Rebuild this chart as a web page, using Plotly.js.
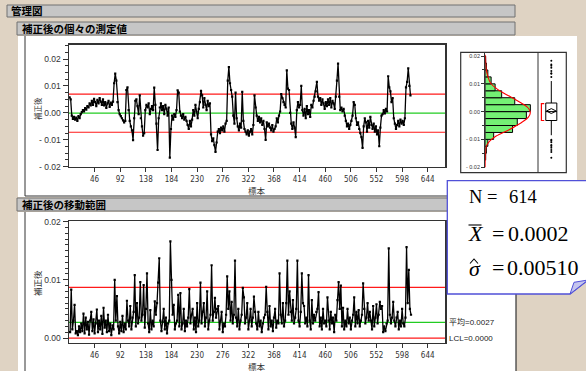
<!DOCTYPE html>
<html><head><meta charset="utf-8">
<script src="https://cdn.plot.ly/plotly-3.0.1.min.js"></script>
<style>html,body{margin:0;padding:0;background:#dfd3c3;}#chart{width:586px;height:371px;}</style>
</head><body><div id="chart"></div>
<script>
// ---------------- data ----------------
const sampleTicks = [46, 92, 138, 184, 230, 276, 322, 368, 414, 460, 506, 552, 598, 644];
const indivTickVals = [-0.02, -0.01, 0, 0.01, 0.02];
const indivTickText = ['- 0.02', '- 0.01', '0.00', '0.01', '0.02'];
const mrTickVals = [0, 0.01, 0.02];
const mrTickText = ['0.00', '0.01', '0.02'];

// individual measurements (read every 2nd sample: 1,3,5,...,613)
const indivValues = [
 0.0058, 0.0050, -0.0010, -0.0022, -0.0015, -0.0025, -0.0018, -0.0030, -0.0012, -0.0020,
 -0.0005, 0.0003, 0.0010, 0.0005, 0.0018, 0.0012, 0.0025, 0.0020, 0.0035, 0.0028,
 0.0045, 0.0030, 0.0052, 0.0040, 0.0025, 0.0048, 0.0035, 0.0055, 0.0042, 0.0030,
 0.0050, 0.0028, 0.0040, 0.0018, 0.0035, 0.0045, 0.0022, 0.0038, 0.0030, 0.0042,
 0.0110, 0.0146, 0.0120, 0.0040, 0.0010, -0.0005, -0.0012, -0.0020, -0.0028, -0.0035,
 -0.0030, 0.0085, 0.0095, 0.0010, -0.0030, -0.0050, -0.0065, -0.0101, -0.0020, 0.0045,
 0.0050, 0.0025, -0.0005, 0.0065, -0.0020, -0.0050, -0.0085, -0.0075, 0.0010, 0.0030,
 0.0020, 0.0035, -0.0005, 0.0015, 0.0025, 0.0010, 0.0094, 0.0030, -0.0040, -0.0138,
 -0.0020, 0.0020, 0.0035, 0.0010, 0.0025, -0.0005, 0.0030, 0.0015, -0.0010, 0.0020,
 -0.0166, -0.0060, -0.0010, -0.0025, -0.0005, -0.0015, 0.0010, 0.0084, 0.0075, 0.0005,
 -0.0010, -0.0020, -0.0005, -0.0025, -0.0015, -0.0030, -0.0045, -0.0060, -0.0030, -0.0050,
 -0.0025, 0.0010, -0.0010, 0.0030, 0.0005, -0.0020, 0.0015, 0.0040, 0.0082, 0.0065,
 0.0020, 0.0055, 0.0030, 0.0010, 0.0045, 0.0025, 0.0035, -0.0080, -0.0105, -0.0095,
 -0.0120, -0.0145, -0.0110, -0.0070, -0.0060, -0.0075, -0.0055, -0.0065, -0.0050, -0.0070,
 -0.0040, -0.0030, 0.0120, 0.0170, 0.0110, 0.0085, 0.0060, -0.0010, -0.0040, 0.0075,
 -0.0020, -0.0050, -0.0065, -0.0040, -0.0055, 0.0078, -0.0030, -0.0060, -0.0070, -0.0080,
 -0.0065, -0.0085, -0.0070, -0.0060, -0.0080, -0.0045, 0.0065, 0.0020, -0.0010, -0.0030,
 -0.0015, -0.0035, -0.0020, -0.0045, -0.0030, -0.0060, -0.0100, -0.0035, -0.0050, -0.0040,
 -0.0055, -0.0065, -0.0045, -0.0070, -0.0060, -0.0050, -0.0020, -0.0035, -0.0010, 0.0005,
 0.0070, 0.0055, 0.0040, 0.0030, 0.0020, 0.0158, 0.0090, 0.0085, 0.0000, -0.0040,
 -0.0060, -0.0035, -0.0055, -0.0090, 0.0010, 0.0040, 0.0020, 0.0030, 0.0100, 0.0010,
 -0.0010, 0.0015, -0.0020, 0.0025, -0.0005, 0.0010, -0.0015, 0.0030, 0.0020, 0.0045,
 0.0060, 0.0080, 0.0115, 0.0060, 0.0045, 0.0055, 0.0030, 0.0050, 0.0035, 0.0015,
 0.0040, 0.0025, 0.0050, 0.0030, 0.0055, 0.0020, 0.0045, 0.0035, 0.0015, 0.0060,
 0.0120, 0.0183, 0.0060, 0.0010, 0.0020, 0.0005, 0.0015, -0.0010, -0.0030, -0.0050,
 -0.0040, -0.0060, -0.0045, -0.0030, -0.0010, 0.0040, 0.0030, -0.0020, -0.0045, -0.0035,
 -0.0060, -0.0075, -0.0090, -0.0130, -0.0050, -0.0020, -0.0035, -0.0070, -0.0030, -0.0055,
 -0.0015, -0.0045, -0.0060, -0.0040, -0.0070, -0.0050, -0.0080, -0.0065, -0.0124, -0.0055,
 -0.0010, -0.0005, 0.0010, -0.0002, 0.0015, 0.0005, 0.0136, 0.0095, 0.0080, 0.0040,
 0.0055, -0.0020, -0.0040, -0.0060, -0.0045, -0.0030, -0.0050, -0.0025, -0.0040, -0.0030,
 -0.0045, -0.0020, 0.0095, 0.0115, 0.0165, 0.0100, 0.0065
];
// moving ranges (read every 2nd sample: 2,4,...,614)
const mrValues = [
 0.0010, 0.0083, 0.0015, 0.0030, 0.0057, 0.0008, 0.0012, 0.0005, 0.0020, 0.0010,
 0.0025, 0.0012, 0.0042, 0.0008, 0.0035, 0.0015, 0.0028, 0.0006, 0.0030, 0.0045,
 0.0012, 0.0032, 0.0008, 0.0025, 0.0049, 0.0010, 0.0030, 0.0015, 0.0038, 0.0007,
 0.0052, 0.0018, 0.0030, 0.0010, 0.0040, 0.0012, 0.0025, 0.0005, 0.0022, 0.0015,
 0.0100, 0.0030, 0.0072, 0.0020, 0.0008, 0.0028, 0.0012, 0.0038, 0.0010, 0.0025,
 0.0015, 0.0064, 0.0030, 0.0020, 0.0055, 0.0015, 0.0035, 0.0045, 0.0108, 0.0020,
 0.0060, 0.0025, 0.0035, 0.0096, 0.0030, 0.0040, 0.0091, 0.0018, 0.0050, 0.0111,
 0.0025, 0.0010, 0.0048, 0.0015, 0.0030, 0.0020, 0.0063, 0.0040, 0.0060, 0.0095,
 0.0137, 0.0030, 0.0012, 0.0028, 0.0050, 0.0015, 0.0035, 0.0008, 0.0025, 0.0030,
 0.0166, 0.0100, 0.0040, 0.0057, 0.0015, 0.0025, 0.0030, 0.0074, 0.0020, 0.0077,
 0.0015, 0.0025, 0.0050, 0.0012, 0.0030, 0.0020, 0.0035, 0.0084, 0.0025, 0.0040,
 0.0050, 0.0015, 0.0035, 0.0010, 0.0060, 0.0020, 0.0030, 0.0095, 0.0025, 0.0045,
 0.0060, 0.0020, 0.0035, 0.0080, 0.0015, 0.0030, 0.0040, 0.0125, 0.0030, 0.0045,
 0.0069, 0.0035, 0.0050, 0.0055, 0.0015, 0.0030, 0.0045, 0.0010, 0.0025, 0.0020,
 0.0040, 0.0106, 0.0050, 0.0080, 0.0030, 0.0062, 0.0025, 0.0040, 0.0133, 0.0035,
 0.0020, 0.0050, 0.0015, 0.0030, 0.0040, 0.0086, 0.0070, 0.0025, 0.0035, 0.0060,
 0.0015, 0.0030, 0.0050, 0.0020, 0.0035, 0.0071, 0.0045, 0.0025, 0.0015, 0.0045,
 0.0020, 0.0030, 0.0010, 0.0025, 0.0035, 0.0040, 0.0088, 0.0045, 0.0015, 0.0055,
 0.0020, 0.0030, 0.0012, 0.0035, 0.0050, 0.0018, 0.0030, 0.0025, 0.0111, 0.0040,
 0.0025, 0.0060, 0.0020, 0.0030, 0.0060, 0.0133, 0.0040, 0.0080, 0.0045, 0.0030,
 0.0065, 0.0025, 0.0035, 0.0050, 0.0133, 0.0030, 0.0020, 0.0045, 0.0111, 0.0060,
 0.0055, 0.0025, 0.0035, 0.0020, 0.0108, 0.0030, 0.0015, 0.0065, 0.0025, 0.0040,
 0.0030, 0.0045, 0.0050, 0.0079, 0.0020, 0.0035, 0.0015, 0.0050, 0.0025, 0.0030,
 0.0020, 0.0070, 0.0030, 0.0015, 0.0045, 0.0025, 0.0035, 0.0010, 0.0040, 0.0030,
 0.0065, 0.0096, 0.0050, 0.0090, 0.0020, 0.0052, 0.0015, 0.0030, 0.0020, 0.0050,
 0.0025, 0.0035, 0.0015, 0.0030, 0.0040, 0.0070, 0.0020, 0.0045, 0.0025, 0.0048,
 0.0020, 0.0030, 0.0040, 0.0094, 0.0050, 0.0025, 0.0035, 0.0060, 0.0030, 0.0045,
 0.0030, 0.0015, 0.0055, 0.0020, 0.0035, 0.0058, 0.0025, 0.0040, 0.0062, 0.0050,
 0.0055, 0.0010, 0.0020, 0.0012, 0.0025, 0.0030, 0.0154, 0.0040, 0.0025, 0.0035,
 0.0062, 0.0030, 0.0020, 0.0035, 0.0045, 0.0015, 0.0030, 0.0020, 0.0050, 0.0025,
 0.0020, 0.0035, 0.0156, 0.0060, 0.0117, 0.0050, 0.0040
];
const indivCL = -0.0001, indivUCL = 0.0070, indivLCL = -0.0072;
const mrCL = 0.0027, mrUCL = 0.0087, mrLCL = 0.0000;

const histBinCenters = [-0.01625, -0.01375, -0.01125, -0.00875, -0.00625, -0.00375, -0.00125, 0.00125, 0.00375, 0.00625, 0.00875, 0.01125, 0.01375, 0.01625, 0.01875];
const histCounts = [1, 3, 7, 23, 75, 88, 113, 124, 81, 45, 27, 16, 7, 3, 1];
const histBinWidth = 0.0025;
const normalCurveY = [0.0205, 0.0198, 0.0150, 0.0126, 0.0102, 0.0079, 0.0055, 0.0031, 0.0013, -0.0003, -0.0021, -0.0040, -0.0064, -0.0088, -0.0106, -0.0124, -0.0171, -0.0200];
const normalCurveCount = [0.3, 0.5, 2.8, 7.3, 14.7, 34.9, 67, 99, 118, 124, 118, 99, 67, 30, 12, 2.8, 0.5, 0.3];
const boxQ1 = [-0.0032], boxMedian = [0.0000], boxQ3 = [0.0031], boxLowFence = [-0.0085], boxHighFence = [0.0110], boxMean = [0.0002];
const boxOutliers = [0.0183, 0.0170, 0.0165, 0.0158, 0.0146, 0.0138, 0.0136, 0.0125, -0.0101, -0.0105, -0.0110, -0.0120, -0.0124, -0.0130, -0.0138, -0.0145, -0.0166];
const shortestHalf = [-0.0032, 0.0029];
const statN = '614', statMean = '0.0002', statSigma = '0.00510';

// ---------------- helpers (layout positions) ----------------
const W = 586, H = 371;
const PX = x => x / W;
const PY = y => 1 - y / H;
const indivX = indivValues.map((v, i) => 2 * i + 1);
const mrX = mrValues.map((v, i) => 2 * i + 2);
const boxPos = 0.47;

const tickFont = {family: 'Liberation Sans, Arial, sans-serif', size: 8.5, color: '#333'};
const xTickFont = {family: 'Liberation Sans Narrow, DejaVu Sans Condensed, Liberation Sans, Arial', size: 8, color: '#333'};

function xAxisCfg(anchor, dom) {
  return {domain: dom, anchor: anchor, range: [0, 675], tickmode: 'array', tickvals: sampleTicks,
    ticks: 'outside', ticklen: 4, tickcolor: '#333', tickwidth: 1, showline: true, mirror: true,
    linecolor: '#333', linewidth: 1.5, showgrid: false, zeroline: false, tickfont: xTickFont, fixedrange: true};
}

const traces = [
  {type: 'scatter', mode: 'lines+markers', x: indivX, y: indivValues, xaxis: 'x', yaxis: 'y',
   line: {color: '#000', width: 1.3}, marker: {color: '#000', size: 2.2, symbol: 'square'}, hoverinfo: 'skip'},
  {type: 'scatter', mode: 'lines+markers', x: mrX, y: mrValues, xaxis: 'x2', yaxis: 'y2',
   line: {color: '#000', width: 1.3}, marker: {color: '#000', size: 2.2, symbol: 'square'}, hoverinfo: 'skip'},
  {type: 'bar', orientation: 'h', y: histBinCenters, x: histCounts, width: histBinWidth,
   xaxis: 'x3', yaxis: 'y3', marker: {color: '#74f074', line: {color: '#000', width: 1}}, hoverinfo: 'skip'},
  {type: 'scatter', mode: 'lines', x: normalCurveCount, y: normalCurveY, xaxis: 'x3', yaxis: 'y3',
   line: {color: '#ff0000', width: 1.1, shape: 'spline'}, hoverinfo: 'skip'},
  {type: 'box', x: [boxPos], q1: boxQ1, median: boxMedian, q3: boxQ3, lowerfence: boxLowFence, upperfence: boxHighFence,
   xaxis: 'x4', yaxis: 'y3', width: 0.39, fillcolor: '#fff', line: {color: '#000', width: 1}, whiskerwidth: 0,
   boxpoints: false, hoverinfo: 'skip'},
  {type: 'scatter', mode: 'markers', x: boxOutliers.map(() => boxPos), y: boxOutliers, xaxis: 'x4', yaxis: 'y3',
   marker: {color: '#000', size: 2}, hoverinfo: 'skip'},
  {type: 'scatter', mode: 'markers', x: [boxPos], y: boxMean, xaxis: 'x4', yaxis: 'y3',
   marker: {color: '#000', size: 7, symbol: 'diamond-wide-open', line: {width: 1}}, hoverinfo: 'skip'},
  {type: 'scatter', mode: 'lines', x: [0.22, 0.12, 0.12, 0.22], y: [shortestHalf[1], shortestHalf[1], shortestHalf[0], shortestHalf[0]],
   xaxis: 'x4', yaxis: 'y3', line: {color: '#ff0000', width: 1.2}, hoverinfo: 'skip'}
];

function seg(x0, y0, x1, y1, color, width, layer) {
  return {type: 'line', xref: 'paper', yref: 'paper', x0: PX(x0), y0: PY(y0), x1: PX(x1), y1: PY(y1),
    line: {color: color, width: width}, layer: layer || 'below'};
}
function box(x0, y0, x1, y1, fill, lineColor, width, layer) {
  return {type: 'rect', xref: 'paper', yref: 'paper', x0: PX(x0), y0: PY(y0), x1: PX(x1), y1: PY(y1),
    fillcolor: fill, line: {color: lineColor || 'rgba(0,0,0,0)', width: width || 0}, layer: layer || 'below'};
}
function pathP(pts, fill, lineColor, width, layer, closed) {
  let d = pts.map((p, i) => (i ? 'L' : 'M') + PX(p[0]) + ',' + PY(p[1])).join(' ');
  if (closed !== false) d += ' Z';
  return {type: 'path', xref: 'paper', yref: 'paper', path: d, fillcolor: fill,
    line: {color: lineColor, width: width}, layer: layer || 'below'};
}
function hline(axisX, axisY, v, color) {
  return {type: 'line', xref: axisX + ' domain', yref: axisY, x0: 0, x1: 1, y0: v, y1: v,
    line: {color: color, width: 1.2}, layer: 'below'};
}

const shapes = [
  // white panels
  box(18, 36, 577, 197, '#ffffff'),
  box(18, 212, 516, 372, '#ffffff'),
  // header bars
  box(7, 5, 515, 17, '#c6c6c6', '#707070', 1),
  box(17, 22, 515, 35, '#c6c6c6', '#707070', 1),
  box(17, 198, 515, 211, '#c6c6c6', '#707070', 1),
  // frames
  seg(25, 36, 25, 196, '#333', 1),
  seg(25, 196, 577, 196, '#333', 1),
  seg(25, 212, 25, 372, '#333', 1),
  seg(516, 212, 516, 372, '#333', 1.2),
  // histogram panel frame
  box(460.7, 52.3, 566.3, 172.7, 'rgba(0,0,0,0)', '#333', 1.2),
  seg(538, 52.3, 538, 172.7, '#333', 1),
  // control lines
  hline('x', 'y', indivUCL, '#ff1a1a'),
  hline('x', 'y', indivLCL, '#ff1a1a'),
  hline('x', 'y', indivCL, '#22cc22'),
  hline('x2', 'y2', mrUCL, '#ff1a1a'),
  hline('x2', 'y2', mrLCL, '#ff1a1a'),
  hline('x2', 'y2', mrCL, '#22cc22'),
  // callout
  pathP([[447.3, 180.7], [592, 180.7], [592, 277], [570, 294], [447.3, 294]], '#ffffff', '#5050d8', 1.3, 'above'),
  pathP([[570, 294], [574, 282.3], [588, 280]], '#c4c4ee', '#5050d8', 1, 'above'),
  seg(468.5, 225, 481.5, 225, '#000', 1.1, 'above'),
  pathP([[470, 263.5], [474, 259], [478, 263.5]], 'rgba(0,0,0,0)', '#000', 1.1, 'above', false)
];

const hdrFont = {family: 'Noto Sans CJK JP, sans-serif', size: 10.5, color: '#000'};
const lblFont = {family: 'Noto Sans CJK JP, Liberation Sans, sans-serif', size: 8.5, color: '#333'};
const serif = s => ({family: 'Liberation Serif, Times New Roman, serif', size: s, color: '#000'});
function ann(text, x, y, font, opts) {
  return Object.assign({text: text, xref: 'paper', yref: 'paper', x: PX(x), y: PY(y), showarrow: false,
    xanchor: 'left', yanchor: 'middle', font: font}, opts || {});
}
const annotations = [
  ann('<b>管理図</b>', 9, 11, hdrFont),
  ann('<b>補正後の個々の測定値</b>', 20, 28.5, hdrFont),
  ann('<b>補正後の移動範囲</b>', 20, 204.5, hdrFont),
  ann('補正後', 37, 109, Object.assign({}, lblFont, {size: 7.5}), {xanchor: 'center', textangle: -90}),
  ann('標本', 257, 190, lblFont, {xanchor: 'center'}),
  ann('補正後', 37, 283, lblFont, {xanchor: 'center', textangle: -90}),
  ann('標本', 257, 366, lblFont, {xanchor: 'center'}),
  {text: '平均=' + mrCL.toFixed(4), xref: 'paper', yref: 'y2', x: PX(447), y: mrCL, showarrow: false,
   xanchor: 'left', yanchor: 'middle', font: {family: 'Liberation Sans, Noto Sans CJK JP', size: 8, color: '#222'}},
  {text: 'LCL=' + mrLCL.toFixed(4), xref: 'paper', yref: 'y2', x: PX(447), y: mrLCL, showarrow: false,
   xanchor: 'left', yanchor: 'middle', font: {family: 'Liberation Sans, Noto Sans CJK JP', size: 8, color: '#222'}},
  ann('N', 466.7, 197, serif(18.5)),
  ann('=', 485, 197, serif(18.5)),
  ann(statN, 507, 197, serif(18.5)),
  ann('<i>X</i>', 466, 233.7, serif(22)),
  ann('=', 489.5, 233.7, serif(22)),
  ann(statMean, 505.5, 233.7, serif(22)),
  ann('<i>\u03C3</i>', 466.5, 268.5, serif(22)),
  ann('=', 489.5, 267.5, serif(22)),
  ann(statSigma, 505, 267.5, serif(22))
];

const layout = {
  width: W, height: H, margin: {l: 0, r: 0, t: 0, b: 0}, autosize: false,
  paper_bgcolor: '#dfd3c3', plot_bgcolor: '#ffffff', showlegend: false,
  font: {family: 'Liberation Sans, Arial, sans-serif', size: 9, color: '#333'},
  xaxis: xAxisCfg('y', [PX(69), PX(445)]),
  yaxis: {domain: [PY(166.7), PY(44.5)], anchor: 'x', range: [-0.02, 0.0254], tickmode: 'array',
    tickvals: indivTickVals, ticktext: indivTickText, ticks: 'outside', ticklen: 5, tickcolor: '#333',
    minor: {tickmode: 'linear', tick0: 0, dtick: 0.0025, ticks: 'outside', ticklen: 3, tickcolor: '#333', showgrid: false},
    showline: true, mirror: true, linecolor: '#333', linewidth: 1.5, showgrid: false, zeroline: false, tickfont: tickFont, fixedrange: true},
  xaxis2: xAxisCfg('y2', [PX(69), PX(445)]),
  yaxis2: {domain: [PY(342.7), PY(221)], anchor: 'x2', range: [-0.0008, 0.0201], tickmode: 'array',
    tickvals: mrTickVals, ticktext: mrTickText, ticks: 'outside', ticklen: 5, tickcolor: '#333',
    minor: {tickmode: 'linear', tick0: 0, dtick: 0.001, ticks: 'outside', ticklen: 3, tickcolor: '#333', showgrid: false},
    showline: true, mirror: true, linecolor: '#333', linewidth: 1.5, showgrid: false, zeroline: false, tickfont: tickFont, fixedrange: true},
  xaxis3: {domain: [PX(485.3), PX(538)], anchor: 'y3', range: [0, 145], showline: false, showticklabels: false,
    ticks: '', showgrid: false, zeroline: false, fixedrange: true},
  yaxis3: {domain: [PY(168), PY(53)], anchor: 'x3', range: [-0.0203, 0.0211], tickmode: 'array',
    tickvals: indivTickVals, ticktext: indivTickText, ticks: 'outside', ticklen: 3, tickcolor: '#333',
    minor: {tickmode: 'linear', tick0: 0, dtick: 0.005, ticks: 'outside', ticklen: 2, tickcolor: '#333', showgrid: false},
    showline: true, linecolor: '#333', linewidth: 1.2, showgrid: false, zeroline: false,
    tickfont: {family: 'Liberation Sans, Arial', size: 5.5, color: '#333'}, fixedrange: true},
  xaxis4: {domain: [PX(538), PX(566.3)], anchor: 'y3', range: [0, 1], showline: false, showticklabels: false,
    ticks: '', showgrid: false, zeroline: false, fixedrange: true},
  shapes: shapes,
  annotations: annotations
};

Plotly.newPlot('chart', traces, layout, {displayModeBar: false, staticPlot: true});
</script>
</body></html>
